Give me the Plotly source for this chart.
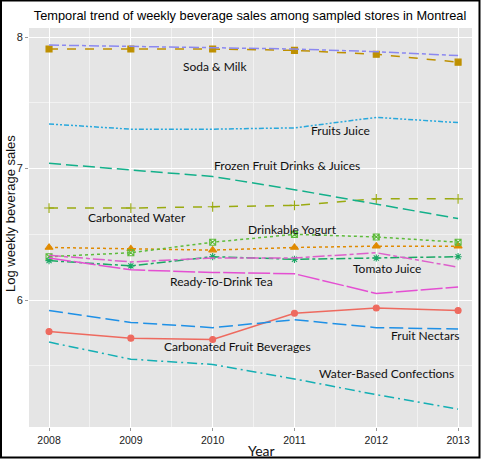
import plotly.graph_objects as go

years = [2008, 2009, 2010, 2011, 2012, 2013]

carbonated_fruit_bev = [5.76, 5.71, 5.70, 5.90, 5.94, 5.92]
orange_series = [6.40, 6.39, 6.38, 6.40, 6.41, 6.41]
milk = [7.91, 7.91, 7.91, 7.90, 7.87, 7.81]
carbonated_water = [6.70, 6.70, 6.71, 6.72, 6.77, 6.77]
drinkable_yogurt = [6.33, 6.36, 6.44, 6.50, 6.48, 6.44]
green_star_series = [6.30, 6.26, 6.33, 6.31, 6.32, 6.33]
frozen_fruit = [7.04, 6.99, 6.94, 6.84, 6.73, 6.62]
water_based = [5.68, 5.55, 5.51, 5.40, 5.28, 5.17]
fruit_nectars = [5.92, 5.83, 5.79, 5.85, 5.79, 5.78]
fruits_juice = [7.34, 7.30, 7.30, 7.31, 7.39, 7.35]
soda = [7.94, 7.93, 7.92, 7.91, 7.89, 7.86]
ready_tea = [6.32, 6.23, 6.21, 6.20, 6.05, 6.10]
tomato_juice = [6.34, 6.29, 6.32, 6.32, 6.36, 6.25]

label_texts = ["Soda & Milk", "Fruits Juice", "Frozen Fruit Drinks & Juices",
               "Carbonated Water", "Drinkable Yogurt", "Tomato Juice",
               "Ready-To-Drink Tea", "Fruit Nectars", "Carbonated Fruit Beverages",
               "Water-Based Confections"]
label_x = [2010.03, 2011.56, 2010.91, 2009.08, 2010.97, 2012.13, 2010.11, 2012.60, 2010.30, 2012.13]
label_y = [7.78, 7.29, 7.02, 6.63, 6.54, 6.24, 6.14, 5.73, 5.65, 5.44]

y_ticks = [6, 7, 8]

series = [
    ("Carbonated Fruit Beverages", carbonated_fruit_bev, "#EE6A5F", "solid", "circle", 6),
    ("Orange", orange_series, "#E08A00", "dot", "triangle-up", 7),
    ("Milk", milk, "#BE9000", "dash", "square", 6),
    ("Carbonated Water", carbonated_water, "#9AAA10", "dash", "cross-thin-open", 7),
    ("Drinkable Yogurt", drinkable_yogurt, "#5DBB3A", "dot", "square-x-open", 6),
    ("Green star", green_star_series, "#1AA865", "dashdot", "asterisk-open", 6),
    ("Frozen Fruit Drinks & Juices", frozen_fruit, "#13B08A", "12px,5px", None, 0),
    ("Water-Based Confections", water_based, "#14AFB4", "10px,4px,2px,4px", None, 0),
    ("Fruit Nectars", fruit_nectars, "#1E90E6", "14px,5px", None, 0),
    ("Fruits Juice", fruits_juice, "#28A8DC", "5px,2px,2px,2px,2px,2px", None, 0),
    ("Soda", soda, "#8B88F0", "10px,3px,4px,3px", None, 0),
    ("Ready-To-Drink Tea", ready_tea, "#E44FD2", "22px,3px", None, 0),
    ("Tomato Juice", tomato_juice, "#DD5FCB", "12px,3px,4px,3px", None, 0),
]

fig = go.Figure()
for name, vals, color, dash, sym, size in series:
    mode = "lines+markers" if sym else "lines"
    tr = dict(x=years, y=vals, mode=mode, name=name,
              line=dict(color=color, width=1.5, dash=dash))
    if sym:
        tr["marker"] = dict(symbol=sym, size=size, color=color,
                            line=dict(color=color, width=1.1))
    fig.add_trace(go.Scatter(**tr))

for t, x, y in zip(label_texts, label_x, label_y):
    fig.add_annotation(x=x, y=y, text=t, showarrow=False,
                       font=dict(family="Lato", size=12, color="#111111"))

PL, PR, PT, PB = 29, 472, 28, 427
PW, PH = PR - PL, PB - PT

def px(x):
    return (x - PL) / PW

def py(y):
    return (PB - y) / PH

# axis titles as annotations
fig.add_annotation(xref="paper", yref="paper", x=px(261), y=py(450),
                   xanchor="center", yanchor="middle",
                   text="Year", showarrow=False,
                   font=dict(family="Lato", size=14, color="#111111"))
fig.add_annotation(xref="paper", yref="paper", x=px(10), y=py(214),
                   xanchor="center", yanchor="middle",
                   text="Log weekly beverage sales", showarrow=False, textangle=-90,
                   font=dict(family="Liberation Sans", size=13, color="#111111"))

# outer frame
fig.add_shape(type="rect", xref="paper", yref="paper",
              x0=px(1), x1=px(479.5), y0=py(457.5), y1=py(0.5),
              line=dict(color="black", width=2), fillcolor="rgba(0,0,0,0)", layer="above")

fig.update_layout(
    width=481, height=459,
    margin=dict(l=PL, r=481 - PR, t=PT, b=459 - PB),
    paper_bgcolor="white",
    plot_bgcolor="#E5E5E5",
    showlegend=False,
    title=dict(text="Temporal trend of weekly beverage sales among sampled stores in Montreal",
               x=250 / 481, xanchor="center", y=1 - 16 / 459, yanchor="middle",
               font=dict(family="Liberation Sans", size=12.8, color="#000000")),
    xaxis=dict(range=[2007.755, 2013.17], tickvals=years, ticktext=[str(y) for y in years],
               showgrid=True, gridcolor="white", gridwidth=1.2, zeroline=False,
               ticks="outside", ticklen=3, tickcolor="#999999",
               tickfont=dict(family="Liberation Sans", size=10.5, color="#1A1A1A"),
               minor=dict(tickvals=[2008.5, 2009.5, 2010.5, 2011.5, 2012.5],
                          showgrid=True, gridcolor="#F2F2F2", gridwidth=0.6)),
    yaxis=dict(range=[5.034, 8.07], tickvals=y_ticks, ticktext=[str(v) for v in y_ticks],
               showgrid=True, gridcolor="white", gridwidth=1.2, zeroline=False,
               ticks="outside", ticklen=3, tickcolor="#999999",
               tickfont=dict(family="Liberation Sans", size=11, color="#1A1A1A"),
               minor=dict(tickvals=[5.5, 6.5, 7.5], showgrid=True,
                          gridcolor="#F2F2F2", gridwidth=0.6)),
)

fig.write_html("out.html", config={"displayModeBar": False},
               post_script="document.body.style.margin='0';")
